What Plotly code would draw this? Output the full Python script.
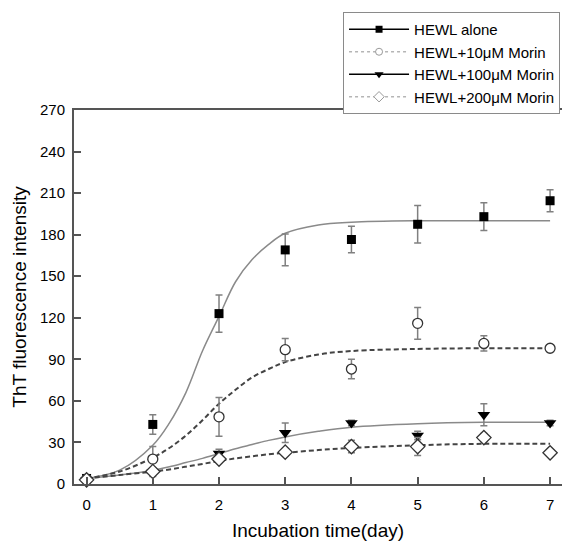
import plotly.graph_objects as go

# ---- data ----
days = [0, 1, 2, 3, 4, 5, 6, 7]
hewl = [4, 43, 123, 169, 176.5, 187.5, 193, 204.5]
hewl_err = [2, 7, 13.5, 11.5, 9.5, 13.5, 10, 8]
m10 = [3.5, 18, 48.5, 97, 83, 116, 101.5, 98]
m10_err = [1.5, 9, 14, 8, 7, 11.5, 5.5, 2]
m100 = [3, 8.5, 22, 37, 44, 35, 50, 44]
m100_err = [1.5, 3, 3, 7, 2, 3, 8, 2]
m200 = [3, 9, 18, 23, 27, 27, 33.5, 22.5]
m200_err = [1, 2, 2, 2.5, 4.5, 6.5, 3, 2]

# fitted curves
fit_x = [0, 0.5, 1, 1.25, 1.5, 1.75, 2, 2.25, 2.5, 2.75, 3, 3.5, 4, 5, 6, 7]
fit_hewl = [4, 10, 28, 44, 66, 96, 121, 146, 162, 173, 181, 187, 189, 190, 190, 190]
fit_m10 = [4, 9, 19, 26, 35, 46, 58, 68, 77, 83, 88, 93.5, 96, 97.5, 98, 98]
fit_m100 = [4, 6.5, 10, 12.5, 15.5, 18.5, 22, 25.5, 28.5, 31.5, 34, 38, 41, 43.5, 44.5, 44.5]
fit_m200 = [4, 6.5, 9, 10.5, 12.5, 14.5, 16.5, 18.5, 20, 21.5, 22.5, 24.5, 26, 28, 29, 29]

names = ["HEWL alone", "HEWL+10\u03bcM Morin", "HEWL+100\u03bcM Morin", "HEWL+200\u03bcM Morin"]
y_ticks = list(range(0, 271, 30))

fig = go.Figure()

# fit lines
fit_styles = [
    (fit_hewl, dict(color="#8a8a8a", width=1.5)),
    (fit_m10, dict(color="#444444", width=2, dash="5px,3px")),
    (fit_m100, dict(color="#8a8a8a", width=1.5)),
    (fit_m200, dict(color="#444444", width=2, dash="5px,3px")),
]
for ys, ln in fit_styles:
    fig.add_trace(go.Scatter(x=fit_x, y=ys, mode="lines", line=dict(shape="spline", **ln),
                             showlegend=False, hoverinfo="skip", cliponaxis=False))

# data points with error bars
err_style = dict(type="data", color="#808080", thickness=1.5, width=3.5, visible=True)
markers = [
    (hewl, hewl_err, dict(symbol="square", size=9, color="black")),
    (m10, m10_err, dict(symbol="circle", size=10, color="white", line=dict(color="#333", width=1.3))),
    (m100, m100_err, dict(symbol="triangle-down", size=11, color="black")),
    (m200, m200_err, dict(symbol="diamond", size=11, color="white", line=dict(color="#333", width=1.3))),
]
for ys, es, mk in markers:
    fig.add_trace(go.Scatter(x=days, y=ys, mode="markers", marker=mk,
                             error_y=dict(array=es, **err_style),
                             showlegend=False, cliponaxis=False))

# legend entries
leg = [
    (dict(color="black", width=1.5), dict(symbol="square", size=7, color="black")),
    (dict(color="#b5b5b5", width=1.5, dash="3px,3px"),
     dict(symbol="circle", size=7, color="white", line=dict(color="#999", width=1))),
    (dict(color="black", width=1.5), dict(symbol="triangle-down", size=8, color="black")),
    (dict(color="#b5b5b5", width=1.5, dash="3px,3px"),
     dict(symbol="diamond", size=8, color="white", line=dict(color="#999", width=1))),
]
for nm, (ln, mk) in zip(names, leg):
    fig.add_trace(go.Scatter(x=[None], y=[None], mode="lines+markers", name=nm, line=ln, marker=mk))

fig.update_layout(
    width=562, height=543,
    margin=dict(l=74, r=0, t=110, b=59),
    paper_bgcolor="white", plot_bgcolor="white",
    font=dict(family="Liberation Sans, Arial, sans-serif", color="black"),
    showlegend=True,
    legend=dict(x=0.996, xanchor="right", y=1.262, yanchor="top",
                bordercolor="#8a8a8a", borderwidth=1, bgcolor="white",
                font=dict(size=15), itemwidth=60, tracegroupgap=0),
    xaxis=dict(range=[-0.19, 7.18], tickmode="array", tickvals=days, ticktext=[str(d) for d in days],
               showgrid=False, zeroline=False, showline=True, linecolor="#555", linewidth=2,
               mirror=True, ticks="inside", ticklen=7, tickwidth=1.5, tickcolor="#555",
               tickfont=dict(size=15), ticklabelstandoff=6, automargin=False,
               title=dict(text="Incubation time(day)", font=dict(size=19), standoff=12)),
    yaxis=dict(range=[0, 270], tickmode="array", tickvals=y_ticks, ticktext=[str(v) for v in y_ticks],
               showgrid=False, zeroline=False, showline=True, linecolor="#555", linewidth=2,
               ticks="inside", ticklen=7, tickwidth=1.5, tickcolor="#555",
               tickfont=dict(size=15), ticklabelstandoff=4, automargin=False,
               title=dict(text="ThT fluorescence intensity", font=dict(size=19), standoff=8)),
)

fig.write_html("out.html", config={"responsive": False, "displayModeBar": False},
               post_script="document.body.style.margin='0';document.body.style.overflow='hidden';")
